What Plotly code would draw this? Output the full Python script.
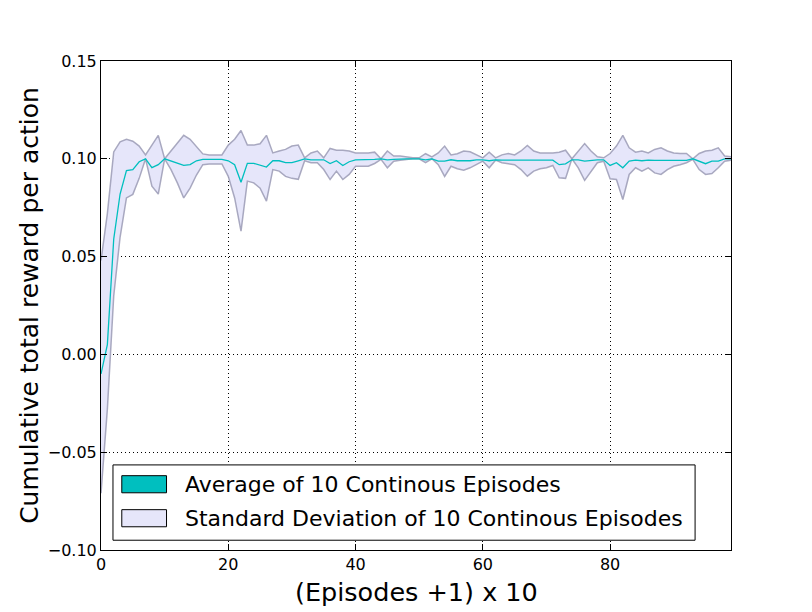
import plotly.graph_objects as go

# x axis: (episodes + 1) x 10, one point per block
episodes = list(range(100))

avg_reward = [
    -0.010, 0.005, 0.059, 0.082, 0.094, 0.0945, 0.0985, 0.100, 0.0955, 0.097,
    0.100, 0.099, 0.098, 0.0966, 0.097, 0.099, 0.0997, 0.0997, 0.0997, 0.0997,
    0.099, 0.097, 0.088, 0.0977, 0.0977, 0.0968, 0.0958, 0.099, 0.099, 0.098,
    0.098, 0.099, 0.100, 0.0995, 0.0995, 0.0995, 0.0976, 0.099, 0.0966, 0.0985,
    0.0995, 0.0995, 0.0995, 0.0997, 0.100, 0.0995, 0.0997, 0.100, 0.100, 0.100,
    0.100, 0.0995, 0.100, 0.0988, 0.0988, 0.0995, 0.099, 0.099, 0.099, 0.0995,
    0.0995, 0.099, 0.0995, 0.0993, 0.0993, 0.0993, 0.0993, 0.0993, 0.0993, 0.0993,
    0.0993, 0.0993, 0.097, 0.0974, 0.0995, 0.0995, 0.0988, 0.0993, 0.0995, 0.0995,
    0.0966, 0.098, 0.0954, 0.0988, 0.0993, 0.099, 0.0993, 0.0992, 0.0992, 0.0992,
    0.0992, 0.0992, 0.0992, 0.100, 0.0988, 0.0975, 0.0988, 0.0988, 0.100, 0.100,
]

std_upper = [
    0.048, 0.072, 0.1035, 0.1087, 0.110, 0.109, 0.1065, 0.102, 0.107, 0.112,
    0.100, 0.104, 0.108, 0.112, 0.110, 0.1065, 0.1025, 0.102, 0.102, 0.102,
    0.107, 0.110, 0.1145, 0.107, 0.107, 0.1077, 0.112, 0.103, 0.104, 0.1048,
    0.1065, 0.107, 0.1005, 0.103, 0.104, 0.1005, 0.1053, 0.1044, 0.1044, 0.104,
    0.103, 0.103, 0.103, 0.1034, 0.100, 0.104, 0.1014, 0.1014, 0.101, 0.1005,
    0.1005, 0.1026, 0.101, 0.103, 0.1065, 0.102, 0.1026, 0.104, 0.1036, 0.102,
    0.1005, 0.1034, 0.1005, 0.102, 0.1027, 0.102, 0.104, 0.1068, 0.104, 0.103,
    0.103, 0.103, 0.1034, 0.1044, 0.100, 0.104, 0.1078, 0.104, 0.101, 0.1005,
    0.1027, 0.1065, 0.112, 0.1056, 0.1034, 0.104, 0.103, 0.1048, 0.1056, 0.104,
    0.103, 0.1027, 0.1027, 0.100, 0.1027, 0.104, 0.1044, 0.1056, 0.1014, 0.101,
]

std_lower = [
    -0.071, -0.028, 0.030, 0.060, 0.080, 0.0818, 0.090, 0.1, 0.086, 0.082,
    0.100, 0.0945, 0.0877, 0.080, 0.085, 0.0917, 0.097, 0.0974, 0.0974, 0.0974,
    0.091, 0.080, 0.063, 0.0886, 0.0877, 0.085, 0.0784, 0.0945, 0.0937, 0.091,
    0.090, 0.0895, 0.099, 0.098, 0.098, 0.0945, 0.0894, 0.0937, 0.0894, 0.092,
    0.0962, 0.0962, 0.0962, 0.0976, 0.0997, 0.0954, 0.0988, 0.0993, 0.0997, 0.100,
    0.100, 0.098, 0.100, 0.097, 0.091, 0.0962, 0.0949, 0.0942, 0.0954, 0.097,
    0.0988, 0.0954, 0.0993, 0.098, 0.0976, 0.097, 0.0945, 0.0911, 0.0937, 0.0949,
    0.0954, 0.0966, 0.0903, 0.090, 0.100, 0.0954, 0.089, 0.0937, 0.098, 0.0988,
    0.0898, 0.0894, 0.0792, 0.092, 0.0954, 0.0937, 0.0954, 0.0928, 0.092, 0.0945,
    0.0962, 0.097, 0.098, 0.0997, 0.0945, 0.092, 0.0925, 0.0954, 0.0988, 0.0993,
]

x_ticks = [0, 20, 40, 60, 80]
y_ticks = [-0.10, -0.05, 0.00, 0.05, 0.10, 0.15]

legend_labels = [
    "Average of 10 Continous Episodes",
    "Standard Deviation of 10 Continous Episodes",
]

TEAL = "#00bfbf"
LAVENDER = "#e6e6fa"
EDGE = "rgba(160,160,185,0.9)"

fig = go.Figure()

# std band
fig.add_trace(go.Scatter(
    x=episodes, y=std_lower, mode="lines",
    line=dict(color=EDGE, width=1.5), showlegend=False, hoverinfo="skip",
))
fig.add_trace(go.Scatter(
    x=episodes, y=std_upper, mode="lines", fill="tonexty",
    fillcolor=LAVENDER, line=dict(color=EDGE, width=1.5),
    showlegend=False, hoverinfo="skip",
))
# mean line
fig.add_trace(go.Scatter(
    x=episodes, y=avg_reward, mode="lines",
    line=dict(color=TEAL, width=1.3), showlegend=False,
))

# matplotlib-like legend box with rectangle patches, drawn in plot-area coords
shapes = [
    dict(type="rect", xref="x domain", yref="y domain",
         x0=0.019, x1=0.943, y0=0.020, y1=0.174,
         line=dict(color="black", width=1), fillcolor="white", layer="above"),
]
annotations = []
for i, (label, color) in enumerate(zip(legend_labels, [TEAL, LAVENDER])):
    yc = 0.1345 - i * 0.0695
    shapes.append(dict(
        type="rect", xref="x domain", yref="y domain",
        x0=0.033, x1=0.104, y0=yc - 0.0175, y1=yc + 0.0175,
        line=dict(color="black", width=1), fillcolor=color, layer="above",
    ))
    annotations.append(dict(
        xref="x domain", yref="y domain", x=0.130, y=yc,
        xanchor="left", yanchor="middle", showarrow=False,
        text=label, font=dict(size=22, color="black"),
    ))

# x title placed by hand so the plot area keeps its size
annotations.append(dict(
    xref="x domain", yref="paper", x=0.5, y=-0.086,
    xanchor="center", yanchor="middle", showarrow=False,
    text="(Episodes +1) x 10", font=dict(size=25.5, color="black"),
))

axis_common = dict(
    showline=True, linecolor="black", linewidth=1, mirror="ticks",
    ticks="inside", ticklen=6, tickcolor="black",
    showgrid=True, gridcolor="black", gridwidth=1, griddash="1px,3px",
    zeroline=False, tickfont=dict(size=16, color="black"), automargin=False,
)

fig.update_xaxes(range=[0, 99], tickvals=x_ticks, **axis_common)
fig.update_yaxes(
    range=[-0.10, 0.15], tickvals=y_ticks, tickformat=".2f",
    title=dict(text="Cumulative total reward per action", font=dict(size=25, color="black"), standoff=2),
    **axis_common,
)

fig.update_layout(
    width=796, height=606,
    margin=dict(l=93, r=73, t=53, b=64),
    paper_bgcolor="white", plot_bgcolor="white",
    font=dict(family="DejaVu Sans", color="black"),
    showlegend=False,
    shapes=shapes, annotations=annotations,
)

fig.write_html("out.html")
